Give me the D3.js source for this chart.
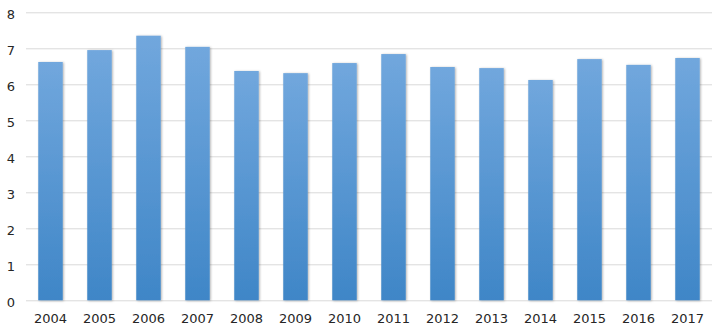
<!DOCTYPE html>
<html>
<head>
<meta charset="utf-8">
<script src="https://cdn.jsdelivr.net/npm/d3@7/dist/d3.min.js"></script>
<style>
  html, body { margin: 0; padding: 0; background: #fff; overflow: hidden; }
  svg { display: block; font-family: "DejaVu Sans", Verdana, sans-serif; }
</style>
</head>
<body>
<div id="chart"></div>
<script>
// ---- Data ----
const years = ['2004', '2005', '2006', '2007', '2008', '2009', '2010',
               '2011', '2012', '2013', '2014', '2015', '2016', '2017'];
const values = [6.62, 6.95, 7.35, 7.04, 6.37, 6.31, 6.59,
                6.84, 6.48, 6.45, 6.12, 6.70, 6.54, 6.73];
const yTicks = [0, 1, 2, 3, 4, 5, 6, 7, 8];

const width = 721, height = 332;
const margin = { top: 12.3, right: 9, bottom: 31.7, left: 26 };
const innerWidth = width - margin.left - margin.right;
const innerHeight = height - margin.top - margin.bottom;

const svg = d3.select('#chart').append('svg')
  .attr('width', width).attr('height', height);

// ---- Defs: gradient + soft shadow ----
const defs = svg.append('defs');
const grad = defs.append('linearGradient')
  .attr('id', 'barGrad').attr('x1', 0).attr('y1', 0).attr('x2', 0).attr('y2', 1);
grad.append('stop').attr('offset', '0%').attr('stop-color', '#71a7dd');
grad.append('stop').attr('offset', '100%').attr('stop-color', '#3f86c7');

const shadow = defs.append('filter').attr('id', 'barShadow')
  .attr('x', '-30%').attr('y', '-10%').attr('width', '160%').attr('height', '120%');
shadow.append('feDropShadow')
  .attr('dx', 1).attr('dy', 0.5).attr('stdDeviation', 1.2)
  .attr('flood-color', '#000').attr('flood-opacity', 0.3);

const g = svg.append('g').attr('transform', `translate(${margin.left},${margin.top})`);

// ---- Scales ----
const x = d3.scaleBand()
  .domain(years)
  .range([0, innerWidth])
  .paddingInner(0.5)
  .paddingOuter(0.25);

const y = d3.scaleLinear().domain([0, 8]).range([innerHeight, 0]);

// ---- Grid ----
g.append('g')
  .selectAll('line').data(yTicks).join('line')
  .attr('x1', 0).attr('x2', innerWidth)
  .attr('y1', d => Math.round(y(d)) + 0.5).attr('y2', d => Math.round(y(d)) + 0.5)
  .attr('stroke', '#d9d9d9').attr('stroke-width', 1);

// ---- Axes ----
const styleText = sel => sel
  .attr('font-size', '13px')
  .attr('font-family', '"DejaVu Sans", Verdana, sans-serif')
  .attr('fill', '#262626');

g.append('g')
  .call(d3.axisLeft(y).tickValues(yTicks).tickSize(0).tickPadding(11))
  .call(a => a.select('.domain').remove())
  .selectAll('text')
  .call(styleText)
  .attr('dy', '0.45em');

g.append('g')
  .attr('transform', `translate(0,${innerHeight})`)
  .call(d3.axisBottom(x).tickSize(0).tickPadding(13))
  .call(a => a.select('.domain').remove())
  .selectAll('text')
  .call(styleText);

// ---- Bars ----
g.append('g')
  .selectAll('rect').data(years).join('rect')
  .attr('x', d => x(d))
  .attr('width', x.bandwidth())
  .attr('y', (d, i) => y(values[i]))
  .attr('height', (d, i) => innerHeight - y(values[i]))
  .attr('fill', 'url(#barGrad)')
  .attr('filter', 'url(#barShadow)');
</script>
</body>
</html>
